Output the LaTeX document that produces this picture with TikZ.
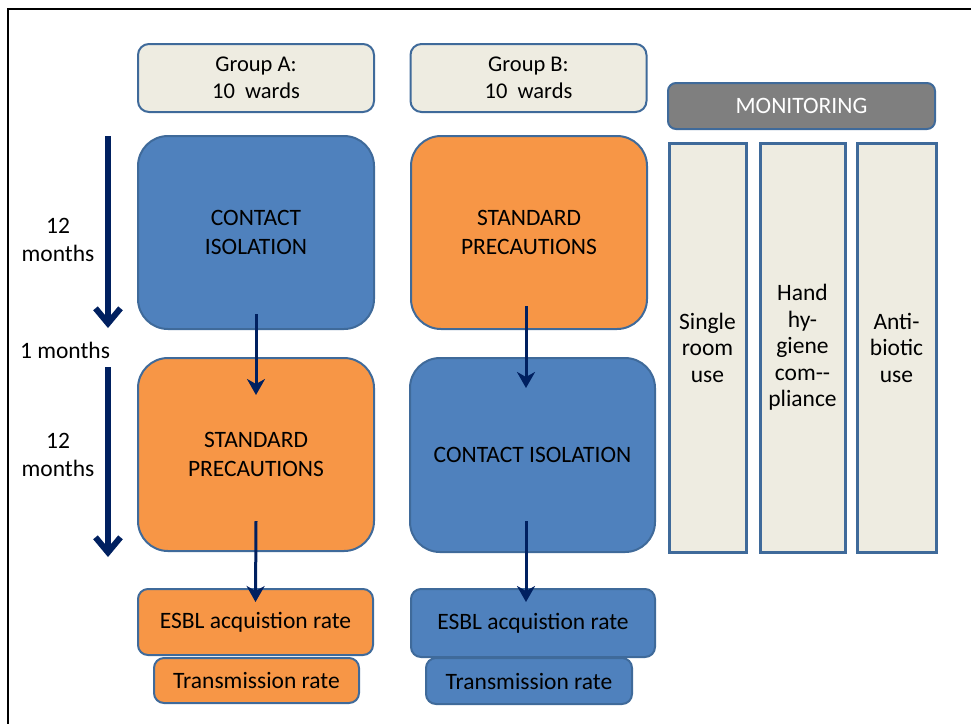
\documentclass[tikz,border=0pt]{standalone}
\usepackage{fontspec}
\setmainfont{Carlito}
\usetikzlibrary{arrows.meta,calc}
\definecolor{boxblue}{HTML}{4F81BD}
\definecolor{boxorange}{HTML}{F79646}
\definecolor{boxedge}{HTML}{3F6A9A}
\definecolor{boxbeige}{HTML}{EEECE1}
\definecolor{boxgray}{HTML}{7F7F7F}
\definecolor{navy}{HTML}{002060}

\begin{document}
\begin{tikzpicture}[x=1pt, y=-1pt,
    every node/.style={font=\fontsize{23.5}{28.5}\selectfont, align=center, inner sep=0pt},
    grpbox/.style={draw=boxedge, line width=2pt, fill=boxbeige, rounded corners=11pt,
      minimum width=236pt, minimum height=68pt, font=\fontsize{22.5}{27}\selectfont},
    bigbox/.style={draw=boxedge, line width=2pt, rounded corners=30pt,
      minimum width=236pt, minimum height=193pt, font=\fontsize{23.5}{29}\selectfont},
    ratebox/.style={draw=boxedge, line width=2pt, rounded corners=10pt},
    monbox/.style={draw=boxedge, line width=2pt, fill=boxgray, text=white, rounded corners=8pt,
      minimum width=267pt, minimum height=46pt},
    colbox/.style={draw=boxedge, line width=3pt, fill=boxbeige, minimum height=409pt,
      font=\fontsize{23.5}{26.5}\selectfont},
    flow/.style={navy, line width=3pt, -{Stealth[length=16pt, width=18pt, inset=5pt]}},
    timeline/.style={navy, line width=6pt, -{Straight Barb[length=15pt, width=25pt]}}]
  \useasboundingbox (0,0) rectangle (971,724);
  \draw[line width=2.5pt] (971,9) -- (8,9) -- (8,724);

  % group headers
  \node[grpbox] (grpA) at (256,78) {Group A:\\10~~wards};
  \node[grpbox] (grpB) at (528.5,78) {Group B:\\10~~wards};

  % first and second period
  \node[bigbox, fill=boxblue] (a1) at (256,232.5) {CONTACT\\ISOLATION};
  \node[bigbox, fill=boxorange] (b1) at (529,232.5) {STANDARD\\PRECAUTIONS};
  \node[bigbox, fill=boxorange] (a2) at (256,454.5) {STANDARD\\PRECAUTIONS};
  \node[bigbox, fill=boxblue, minimum width=245pt, minimum height=194pt] (b2) at (532.5,455) {CONTACT ISOLATION};

  % outcomes
  \node[ratebox, fill=boxorange, minimum width=235pt, minimum height=66pt] (esblA) at (255.5,622) {ESBL acquistion rate};
  \node[ratebox, fill=boxorange, minimum width=205pt, minimum height=45pt] (transA) at (256.5,680.5) {Transmission rate};
  \node[ratebox, fill=boxblue, minimum width=244pt, minimum height=68pt] (esblB) at (533,623) {ESBL acquistion rate};
  \node[ratebox, fill=boxblue, minimum width=206pt, minimum height=46pt] (transB) at (529,681) {Transmission rate};

  % monitoring
  \node[monbox] (mon) at (801.5,106) {MONITORING};
  \node[colbox, minimum width=77pt] (single) at (707.5,347.5) {Single\\room\\use};
  \node[colbox, minimum width=85pt] (hand) at (802.5,347.5) {Hand\\hy-\\giene\\com-{}-\\pliance};
  \node[colbox, minimum width=79pt] (anti) at (896.5,347.5) {Anti-\\biotic\\use};

  % time line
  \coordinate (t1s) at (108,136);
  \coordinate (t1e) at (108,328);
  \coordinate (t2s) at (108,367);
  \coordinate (t2e) at (108,557);
  \draw[timeline] (t1s) -- (t1e);
  \draw[timeline] (t2s) -- (t2e);
  \node (m1) at (58,240) {12\\months};
  \node (gap) at (65,350) {1 months};
  \node (m2) at (58,455) {12\\months};

  % flow arrows
  \draw[flow] ($(a1.south)+(0,-16)$) -- ($(a2.north)+(0,38)$);
  \draw[flow] ($(a2.south)+(0,-31)$) -- ($(esblA.north)+(0,14)$);
  \draw[flow] ($(b1.south)+(-3,-24)$) -- ($(b2.north)+(-6.5,31)$);
  \draw[flow] ($(b2.south)+(-6.5,-32)$) -- ($(esblB.north)+(-7,14)$);
\end{tikzpicture}
\end{document}
